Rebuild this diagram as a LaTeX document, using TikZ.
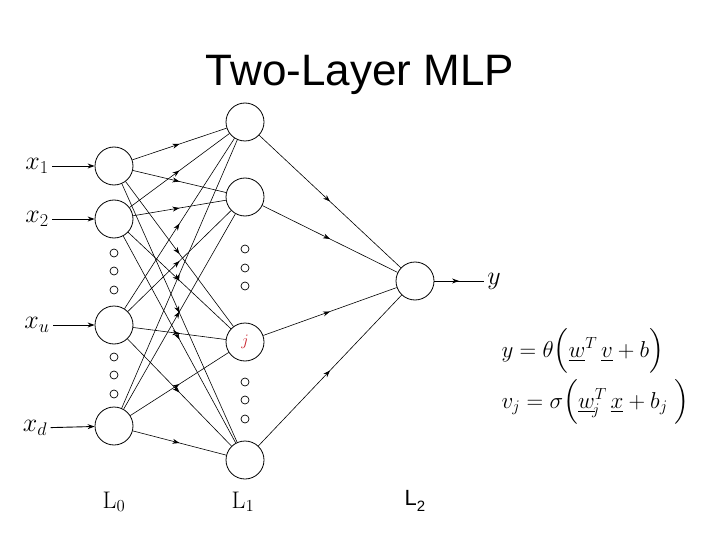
\documentclass[tikz,border=0pt]{standalone}
\usepackage{fix-cm}
\usepackage{amsmath}
\usepackage{fontspec}
\newfontfamily\titlefont{Liberation Sans}
\usetikzlibrary{arrows.meta,decorations.markings}
\definecolor{jred}{HTML}{C8202A}
\tikzset{
  neuron/.style={draw,circle,minimum size=38pt,inner sep=0pt,line width=0.8pt},
  link/.style={line width=0.6pt,postaction={decorate},
    decoration={markings,mark=at position 0.5 with {\arrow{Stealth[length=7pt,width=5pt]}}}},
  feed/.style={line width=0.9pt,-{Stealth[length=7pt,width=5pt]}},
  gap/.style={line width=0.7pt},
  lab/.style={font=\fontsize{26}{30}\selectfont}
}

\begin{document}
\begin{tikzpicture}[x=1pt,y=-1pt]
  \useasboundingbox (0,0) rectangle (720,540);
  \node[font=\titlefont\fontsize{44}{50}\selectfont,anchor=base] (title) at (360,86) {Two-Layer MLP};
  % input layer L0
  \node[neuron] (in1) at (114,166) {};
  \node[neuron] (in2) at (114,219) {};
  \node[neuron] (inu) at (114,325) {};
  \node[neuron] (ind) at (114,426) {};
  % hidden layer L1
  \node[neuron] (h1) at (245,122) {};
  \node[neuron] (h2) at (245,197) {};
  \node[neuron] (hj) at (245,342) {\color{jred}\fontsize{16}{18}\selectfont$j$};
  \node[neuron] (hm) at (245,460) {};
  % output layer L2
  \node[neuron] (out) at (415,281) {};
  % weights
  \foreach \a in {in1,in2,inu,ind}
    \foreach \b in {h1,h2,hj,hm}
      \draw[link] (\a) -- (\b);
  \foreach \b in {h1,h2,hj,hm}
    \draw[link] (\b) -- (out);
  % inputs
  \node[lab] (lx1) at (37,166) {$x_1$};
  \node[lab] (lx2) at (37,219) {$x_2$};
  \node[lab] (lxu) at (37,325) {$x_u$};
  \node[lab] (lxd) at (35,428) {$x_d$};
  \draw[feed] (lx1) -- (in1);
  \draw[feed] (lx2) -- (in2);
  \draw[feed] (lxu) -- (inu);
  \draw[feed] (lxd) -- (ind);
  % output
  \node[lab] (ly) at (494,281) {$y$};
  \draw[link,line width=0.9pt] (out) -- (ly);
  % skipped units
  \foreach \y in {253,271,290,357,375,394}
    \draw[gap] (114,\y) circle (4pt);
  \foreach \y in {249,268,286,382,400,419}
    \draw[gap] (245,\y) circle (4pt);
  % layer names
  \node[anchor=base,font=\fontsize{24}{28}\selectfont] (l0) at (114,508) {L$_0$};
  \node[anchor=base,font=\fontsize{24}{28}\selectfont] (l1) at (243,508) {L$_1$};
  \node[anchor=base,font=\titlefont\fontsize{22}{26}\selectfont] (l2) at (415,505) {L\raisebox{-0.3em}{\fontsize{15}{18}\selectfont 2}};
  % equations
  \node[anchor=base west,font=\fontsize{23}{28}\selectfont] (eqy) at (498,357)
    {$y=\theta\Bigl(\underline{w}^T\,\underline{v}+b\Bigr)$};
  \node[anchor=base west,font=\fontsize{23}{28}\selectfont] (eqv) at (498,408)
    {$v_j=\sigma\Bigl(\underline{w}_{\!j}^{T}\,\underline{x}+b_j\;\Bigr)$};
\end{tikzpicture}
\end{document}
